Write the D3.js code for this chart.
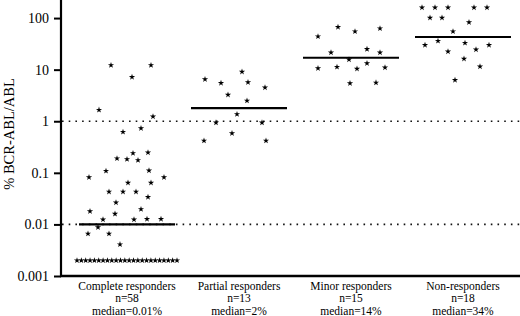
<!DOCTYPE html>
<html>
<head>
<meta charset="utf-8">
<script src="https://cdn.jsdelivr.net/npm/d3@7"></script>
<style>
  body { margin: 0; background: #fff; }
  svg text { font-family: "Liberation Serif", "Times New Roman", serif; fill: #000; }
</style>
</head>
<body>
<div id="chart"></div>
<script>
// groups along the x axis
var categories = ["Complete responders", "Partial responders", "Minor responders", "Non-responders"];
var counts = ["n=58", "n=13", "n=15", "n=18"];
var medianLabels = ["median=0.01%", "median=2%", "median=14%", "median=34%"];
var medianValues = [0.01, 1.8, 17, 43];

// % BCR-ABL/ABL per patient, with a horizontal jitter
var completeVals = [12.2, 12.2, 7.2, 1.66, 1.23, 0.62, 0.73, 0.24, 0.247, 0.19, 0.184, 0.176,
  0.109, 0.111, 0.082, 0.082, 0.064, 0.064, 0.043, 0.043, 0.043, 0.034, 0.0266, 0.0197,
  0.018, 0.016, 0.0124, 0.0124, 0.0127, 0.0127, 0.0088, 0.0066, 0.0066, 0.0041];
var completeJitter = [-16, 24, 5, -28, 26, -4, 14, 6, 21, -10, 0, 11,
  -21, 22, -38, 37, 1, 24, -18, -4, 9, 21, -11, 14,
  -37, -12, -24, 7, 20, 34, -29, -39, -18, -7];
// patients below detection level, drawn as a row
var belowDetection = [0.002, 0.002, 0.002, 0.002, 0.002, 0.002, 0.002, 0.002, 0.002, 0.002, 0.002, 0.002,
  0.002, 0.002, 0.002, 0.002, 0.002, 0.002, 0.002, 0.002, 0.002, 0.002, 0.002, 0.002];

var partialVals = [6.5, 5.5, 9.1, 5.7, 4.5, 3.25, 2.5, 1.37, 0.94, 0.94, 0.585, 0.42, 0.42];
var partialJitter = [-34, -18, 3, 9, 26, -11, 8, -2, -23, 23, -7, -35, 27];

var minorVals = [44, 67, 55, 63, 21.5, 25, 21.5, 15.7, 13.3, 10.6, 11.3, 10.4, 11, 5.45, 5.6];
var minorJitter = [-33, -13, 4, 29, -20, 16, 29, -2, 16, -33, -14, 6, 34, -1, 25];

var nonVals = [160, 160, 160, 160, 160, 101, 101, 83, 55, 30, 36, 33, 30, 24.5, 22.4, 16.2, 11.5, 6.3];
var nonJitter = [-41, -28, -15, 11, 24, -33, -21, 6, -10, -38, -25, 2, 26, 13, -15, 1, 17, -8];

var yTicks = [100, 10, 1, 0.1, 0.01, 0.001];
var yTickLabels = ["100", "10", "1", "0.1", "0.01", "0.001"];
var dottedLevels = [1, 0.01];

var width = 520, height = 316;
var margin = { top: 0, right: 0, bottom: 40, left: 61 };

var svg = d3.select("#chart").append("svg")
  .attr("width", width)
  .attr("height", height);

var x = d3.scaleBand().domain(categories).range([71, 519]);
var y = d3.scaleLog().domain([0.001, 224]).range([276, 0]);
var jitter = d3.scaleLinear().domain([-56, 56]).range([-x.step() / 2, x.step() / 2]);

function center(c) {
  return x(c) + x.step() / 2;
}

var points = [];
completeVals.forEach(function(v, i) { points.push({ c: categories[0], v: v, j: completeJitter[i] }); });
var rowPos = d3.scalePoint().domain(d3.range(belowDetection.length)).range([-50, 50]);
belowDetection.forEach(function(v, i) { points.push({ c: categories[0], v: v, j: rowPos(i) }); });
partialVals.forEach(function(v, i) { points.push({ c: categories[1], v: v, j: partialJitter[i] }); });
minorVals.forEach(function(v, i) { points.push({ c: categories[2], v: v, j: minorJitter[i] }); });
nonVals.forEach(function(v, i) { points.push({ c: categories[3], v: v, j: nonJitter[i] }); });

// dotted reference levels
svg.selectAll(".ref")
  .data(dottedLevels)
  .enter()
  .append("line")
  .attr("class", "ref")
  .attr("x1", margin.left + 1)
  .attr("x2", width)
  .attr("y1", function(d) { return y(d); })
  .attr("y2", function(d) { return y(d); })
  .attr("stroke", "#111")
  .attr("stroke-width", 1.6)
  .attr("stroke-dasharray", "1.6,5.1");

// y axis
var yAxis = svg.append("g")
  .attr("transform", "translate(" + margin.left + ",0)")
  .call(d3.axisLeft(y).tickValues(yTicks).tickSize(7).tickPadding(5)
    .tickFormat(function(d, i) { return yTickLabels[i]; }));
yAxis.attr("font-family", null);
yAxis.select(".domain").remove();
yAxis.selectAll(".tick line").attr("stroke", "#000").attr("stroke-width", 2);
yAxis.selectAll(".tick text").style("font-size", "14px").attr("fill", "#000");

svg.append("line")
  .attr("x1", margin.left).attr("x2", margin.left)
  .attr("y1", 0).attr("y2", y(0.001) + 1)
  .attr("stroke", "#000").attr("stroke-width", 2.2);

// x axis line
svg.append("line")
  .attr("x1", margin.left - 1).attr("x2", width)
  .attr("y1", y(0.001)).attr("y2", y(0.001))
  .attr("stroke", "#000").attr("stroke-width", 2.4);

// y title
svg.append("text")
  .attr("transform", "translate(14," + 134 + ")rotate(-90)")
  .attr("text-anchor", "middle")
  .style("font-size", "14.5px")
  .text("% BCR-ABL/ABL");

// median lines
svg.selectAll(".median")
  .data(categories)
  .enter()
  .append("line")
  .attr("class", "median")
  .attr("x1", function(d) { return center(d) - 48; })
  .attr("x2", function(d) { return center(d) + 48; })
  .attr("y1", function(d, i) { return y(medianValues[i]); })
  .attr("y2", function(d, i) { return y(medianValues[i]); })
  .attr("stroke", "#000")
  .attr("stroke-width", 2.2);

// patient points
var star = d3.symbol().type(d3.symbolStar).size(12);
svg.selectAll(".pt")
  .data(points)
  .enter()
  .append("path")
  .attr("class", "pt")
  .attr("d", star)
  .attr("transform", function(d) {
    return "translate(" + (center(d.c) + jitter(d.j)) + "," + y(d.v) + ")";
  })
  .attr("fill", "#000");

// category labels
var labels = svg.selectAll(".cat")
  .data(categories)
  .enter()
  .append("text")
  .attr("class", "cat")
  .attr("text-anchor", "middle")
  .style("font-size", "11.5px");
labels.append("tspan")
  .attr("x", function(d) { return center(d); })
  .attr("y", 290)
  .text(function(d) { return d; });
labels.append("tspan")
  .attr("x", function(d) { return center(d); })
  .attr("y", 302)
  .text(function(d, i) { return counts[i]; });
labels.append("tspan")
  .attr("x", function(d) { return center(d); })
  .attr("y", 314.5)
  .text(function(d, i) { return medianLabels[i]; });
</script>
</body>
</html>
